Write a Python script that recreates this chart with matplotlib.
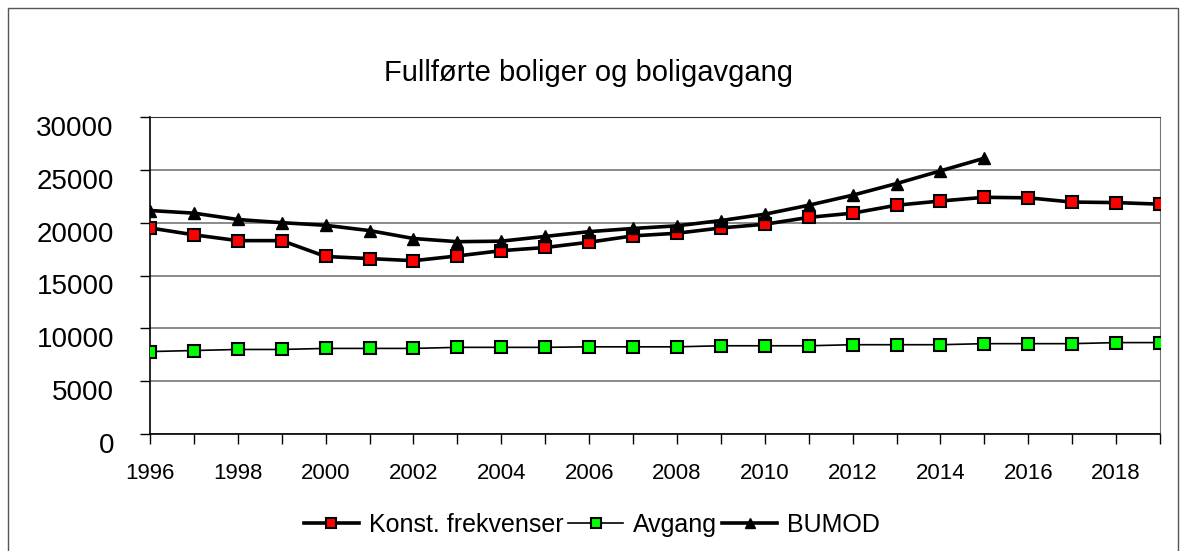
import matplotlib.pyplot as plt
import matplotlib.transforms as mtransforms
from matplotlib.patches import Rectangle

years = list(range(1996, 2020))
konst = [19500, 18850, 18300, 18300, 16800, 16600, 16400, 16850, 17350, 17650,
         18150, 18750, 19000, 19500, 19850, 20500, 20900, 21650, 22050, 22400,
         22350, 21950, 21900, 21750]
avgang = [7800, 7900, 8000, 8000, 8100, 8100, 8100, 8200, 8200, 8200,
          8250, 8250, 8250, 8350, 8350, 8350, 8450, 8450, 8450, 8550,
          8550, 8550, 8650, 8650]
bumod_years = list(range(1996, 2016))
bumod = [21150, 20900, 20300, 20000, 19750, 19250, 18500, 18200, 18250, 18700,
         19150, 19450, 19700, 20200, 20800, 21650, 22600, 23700, 24900, 26100]

plt.rcParams['font.family'] = ['Liberation Sans', 'DejaVu Sans']

fig = plt.figure(figsize=(11.87, 5.51), dpi=100)
ax = fig.add_axes([150/1187, 1 - 434/551, 1010/1187, 317/551])

# outer chart border
fig.patches.append(Rectangle((8/1187, -0.1), 1170/1187, 1.1 - 8/551, transform=fig.transFigure,
                             fill=False, edgecolor='#555555', linewidth=1))

ax.plot(years, konst, color='black', linewidth=2.6, marker='s', markersize=8.5,
        markerfacecolor='#ff0000', markeredgecolor='black', markeredgewidth=1.5,
        label='Konst. frekvenser', zorder=3)
ax.plot(years, avgang, color='black', linewidth=1.2, marker='s', markersize=8.5,
        markerfacecolor='#00ff00', markeredgecolor='black', markeredgewidth=1.5,
        label='Avgang', zorder=3)
ax.plot(bumod_years, bumod, color='black', linewidth=2.6, marker='^', markersize=9,
        markerfacecolor='black', markeredgecolor='black',
        label='BUMOD', zorder=4)

ax.set_xlim(1996, 2019)
ax.set_ylim(0, 30000)
ax.set_yticks(range(0, 30001, 5000))
ax.set_yticklabels([str(v) for v in range(0, 30001, 5000)], fontsize=20)
ax.set_xticks(years)
ax.set_xticklabels([str(y) if y % 2 == 0 else '' for y in years], fontsize=16)
ax.tick_params(axis='both', direction='out', length=7, width=1, color='black')
ax.tick_params(axis='x', pad=14)
ax.tick_params(axis='y', pad=19)
# excel-style labels sit a little below their gridline
shift = mtransforms.ScaledTranslation(0, -9/100, fig.dpi_scale_trans)
for lbl in ax.get_yticklabels():
    lbl.set_transform(lbl.get_transform() + shift)
ax.yaxis.grid(True, color='#777777', linewidth=1.2)
ax.set_axisbelow(True)
ax.spines['top'].set_color('#333333')
ax.spines['right'].set_color('#777777')
for s in ['left', 'bottom']:
    ax.spines[s].set_color('black')
    ax.spines[s].set_linewidth(1.2)

fig.text(588/1187, 1 - 73/551, 'Fullførte boliger og boligavgang', ha='center', va='center',
         fontsize=21)

fig.legend(loc='center', bbox_to_anchor=(592/1187, 1 - 525/551), ncol=3, frameon=False,
           fontsize=18, handlelength=2.2, handletextpad=0.4, columnspacing=0.2,
           markerscale=0.85)

fig.savefig('out.png', dpi=100)
